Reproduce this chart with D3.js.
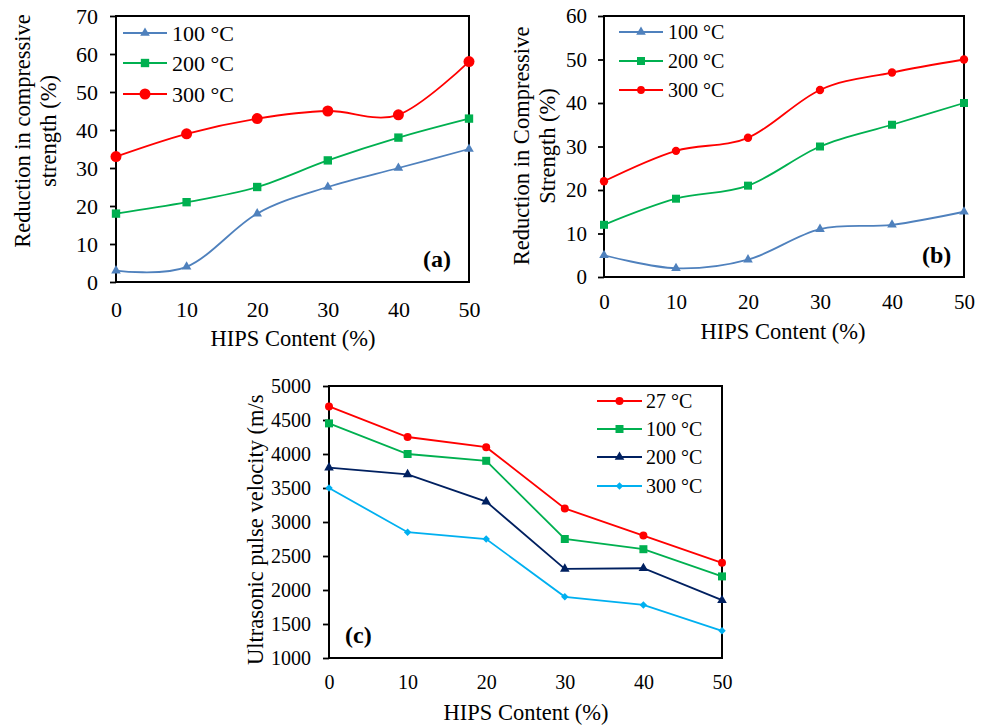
<!DOCTYPE html>
<html>
<head>
<meta charset="utf-8">
<script src="https://cdn.jsdelivr.net/npm/d3@7"></script>
<style>
body{margin:0;background:#fff}
svg{display:block}
svg text{font-family:"Liberation Serif","Times New Roman","Tinos","DejaVu Serif",serif !important;fill:#000}
</style>
</head>
<body>
<div id="chart"></div>
<script>
// data
var hipsContent = [0,10,20,30,40,50]

var strengthA100 = [3,4,18,25,30,35]
var strengthA200 = [18,21,25,32,38,43]
var strengthA300 = [33,39,43,45,44,58]
var ticksA = [0,10,20,30,40,50,60,70]

var strengthB100 = [5,2,4,11,12,15]
var strengthB200 = [12,18,21,30,35,40]
var strengthB300 = [22,29,32,43,47,50]
var ticksB = [0,10,20,30,40,50,60]

var upv27 = [4700,4250,4100,3200,2800,2400]
var upv100 = [4450,4000,3900,2750,2600,2200]
var upv200 = [3800,3700,3300,2310,2320,1850]
var upv300 = [3500,2850,2750,1900,1780,1400]
var ticksC = [1000,1500,2000,2500,3000,3500,4000,4500,5000]

var serif = "'Liberation Serif','Times New Roman',Tinos,'DejaVu Serif',serif"

var svg = d3.select("#chart").append("svg").attr("width",989).attr("height",727)

function marker(sel, type, size, color){
    var t = type=="circle" ? d3.symbolCircle : (type=="square" || type=="diamond") ? d3.symbolSquare : d3.symbolTriangle
    sel.append("path").attr("d",d3.symbol().type(t).size(size)()).attr("fill",color)
}

function drawPanel(cfg){
    var g = svg.append("g")
    var x = d3.scaleLinear().domain([0,50]).range([cfg.left,cfg.right])
    var y = d3.scaleLinear().domain([cfg.yTicks[0],cfg.yTicks[cfg.yTicks.length-1]]).range([cfg.bottom,cfg.top])

    var ya = g.append("g").attr("transform","translate("+cfg.left+",0)")
    .call(d3.axisLeft(y).tickValues(cfg.yTicks).tickFormat(d3.format("d")).tickSize(6).tickPadding(cfg.yPad))
    ya.select(".domain").remove()
    ya.attr("font-family",serif)
    ya.selectAll("line").attr("stroke","#000").attr("stroke-width",1.8)
    ya.selectAll("text").attr("font-size",cfg.tickFont).attr("fill","#000")

    var xa = g.append("g").attr("transform","translate(0,"+cfg.bottom+")")
    .call(d3.axisBottom(x).tickValues(hipsContent).tickSize(0).tickPadding(cfg.xPad))
    xa.select(".domain").remove()
    xa.attr("font-family",serif)
    xa.selectAll("text").attr("font-size",cfg.tickFont).attr("fill","#000")

    g.append("rect").attr("x",cfg.left).attr("y",cfg.top)
    .attr("width",cfg.right-cfg.left).attr("height",cfg.bottom-cfg.top)
    .attr("fill","none").attr("stroke","#000").attr("stroke-width",2)

    var line = d3.line().x(function(d,i){return x(hipsContent[i])}).y(function(d){return y(d)}).curve(cfg.curve)

    cfg.series.forEach(function(s,k){
        g.append("path").attr("d",line(s.values)).attr("fill","none")
        .attr("stroke",s.color).attr("stroke-width",1.8)
        s.values.forEach(function(v,i){
            var m = g.append("g").attr("transform","translate("+x(hipsContent[i])+","+y(v)+")"+(s.marker=="diamond"?" rotate(45)":""))
            marker(m,s.marker,s.size,s.color)
        })
        // legend
        var ly = cfg.legend.ys[k]
        g.append("line").attr("x1",cfg.legend.x1).attr("x2",cfg.legend.x2).attr("y1",ly).attr("y2",ly)
        .attr("stroke",s.color).attr("stroke-width",1.8)
        var lm = g.append("g").attr("transform","translate("+(cfg.legend.x1+cfg.legend.x2)/2+","+ly+")"+(s.marker=="diamond"?" rotate(45)":""))
        marker(lm,s.marker,s.legendSize||s.size,s.color)
        g.append("text").attr("x",cfg.legend.tx).attr("y",ly).attr("dy","0.35em")
        .attr("font-family",serif).attr("font-size",cfg.legend.font).text(s.name)
    })

    cfg.yTitle.forEach(function(t){
        g.append("text").attr("transform","translate("+t.x+","+t.y+") rotate(-90)")
        .attr("text-anchor",t.anchor||"middle").attr("font-family",serif).attr("font-size",22.5).text(t.text)
    })
    g.append("text").attr("x",cfg.xTitle.x).attr("y",cfg.xTitle.y).attr("text-anchor","middle")
    .attr("font-family",serif).attr("font-size",22.5).text("HIPS Content (%)")
    g.append("text").attr("x",cfg.tag.x).attr("y",cfg.tag.y).attr("font-size",24)
    .attr("font-family",serif).attr("font-weight","bold").text(cfg.tag.text)
}

var smooth = d3.curveCatmullRom.alpha(0)

drawPanel({
    left:116, right:469, top:16, bottom:282, yTicks:ticksA, yPad:12, xPad:19, tickFont:22,
    curve:smooth,
    series:[
        {name:"100 °C", values:strengthA100, color:"#4F81BD", marker:"triangle", size:40},
        {name:"200 °C", values:strengthA200, color:"#00B050", marker:"square", size:70},
        {name:"300 °C", values:strengthA300, color:"#FF0000", marker:"circle", size:95}
    ],
    legend:{x1:123, x2:167, ys:[33,63,94], tx:172, font:22},
    yTitle:[{x:30,y:131,text:"Reduction in compressive"},{x:56,y:131,text:"strength (%)"}],
    xTitle:{x:293,y:346},
    tag:{x:423,y:267,text:"(a)"}
})

drawPanel({
    left:604, right:964, top:16, bottom:277, yTicks:ticksB, yPad:11, xPad:17, tickFont:21,
    curve:smooth,
    series:[
        {name:"100 °C", values:strengthB100, color:"#4F81BD", marker:"triangle", size:40},
        {name:"200 °C", values:strengthB200, color:"#00B050", marker:"square", size:64},
        {name:"300 °C", values:strengthB300, color:"#FF0000", marker:"circle", size:55, legendSize:48}
    ],
    legend:{x1:619, x2:663, ys:[32,61,90], tx:668, font:20},
    yTitle:[{x:529,y:146,text:"Reduction in Compressive"},{x:555,y:146,text:"Strength (%)"}],
    xTitle:{x:783,y:339},
    tag:{x:922,y:263,text:"(b)"}
})

drawPanel({
    left:329, right:722, top:386, bottom:658, yTicks:ticksC, yPad:12, xPad:17, tickFont:20,
    curve:d3.curveLinear,
    series:[
        {name:"27 °C", values:upv27, color:"#FF0000", marker:"circle", size:50},
        {name:"100 °C", values:upv100, color:"#00B050", marker:"square", size:64},
        {name:"200 °C", values:upv200, color:"#002060", marker:"triangle", size:40},
        {name:"300 °C", values:upv300, color:"#00B0F0", marker:"diamond", size:28}
    ],
    legend:{x1:597, x2:642, ys:[401,429,457,486], tx:646, font:20},
    yTitle:[{x:263,y:665,anchor:"start",text:"Ultrasonic pulse velocity (m/s"}],
    xTitle:{x:526,y:720},
    tag:{x:345,y:643,text:"(c)"}
})
</script>
</body>
</html>
